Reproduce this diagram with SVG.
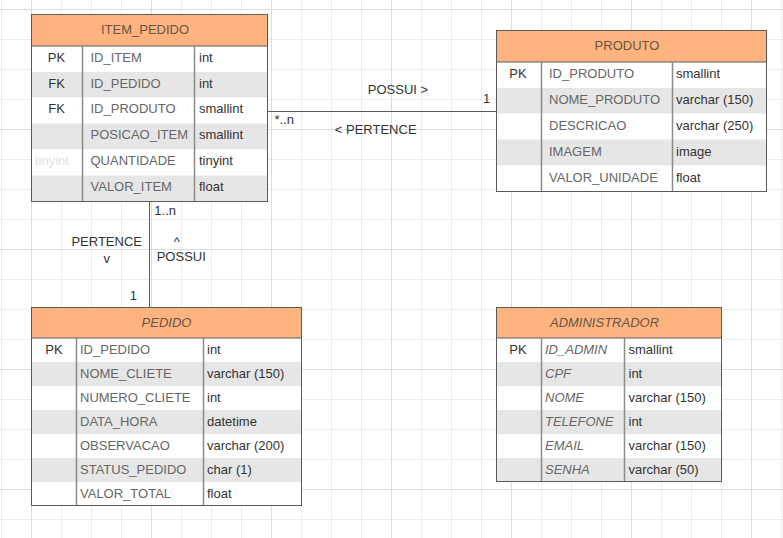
<svg xmlns="http://www.w3.org/2000/svg" width="783" height="538" viewBox="0 0 783 538">
<style>
text{font-family:"Liberation Sans",Arial,sans-serif;font-size:13px}
.hdr{fill:#FFB47F;stroke:#5a5a5a;stroke-width:1}
.box{fill:#ffffff;stroke:#5a5a5a;stroke-width:1}
.alt{fill:#e6e6e6}
.col{stroke:#8c8c8c;stroke-width:1.5}
.ttl{fill:#665544;text-anchor:middle}
.key{fill:#333333;text-anchor:middle}
.fld{fill:#666666}
.typ{fill:#333333}
.it{font-style:italic}
.ghost{fill:#e2e2e2}
.lbl{fill:#333333}
.mid{text-anchor:middle}
.edge{stroke:#5a5a5a;stroke-width:1;fill:none}
</style>
<rect width="783" height="538" fill="#ffffff"/>
<g id="grid" fill="none">
<path stroke="#ececec" stroke-width="1" d="M1.5 0V538M61.5 0V538M91.5 0V538M121.5 0V538M181.5 0V538M211.5 0V538M241.5 0V538M301.5 0V538M331.5 0V538M361.5 0V538M421.5 0V538M451.5 0V538M481.5 0V538M541.5 0V538M571.5 0V538M601.5 0V538M661.5 0V538M691.5 0V538M721.5 0V538M781.5 0V538M0 39.5H783M0 69.5H783M0 99.5H783M0 159.5H783M0 189.5H783M0 219.5H783M0 279.5H783M0 309.5H783M0 339.5H783M0 399.5H783M0 429.5H783M0 459.5H783M0 519.5H783"/>
<path stroke="#dcdcdc" stroke-width="1" d="M31.5 0V538M151.5 0V538M271.5 0V538M391.5 0V538M511.5 0V538M631.5 0V538M751.5 0V538M0 9.5H783M0 129.5H783M0 249.5H783M0 369.5H783M0 489.5H783"/>
</g>
<g id="connectors">
<path class="edge" d="M267.5 111.5H496.5"/>
<path class="edge" d="M149.5 201.5V307.5"/>
<text class="lbl mid" x="398" y="94">POSSUI &gt;</text>
<text class="lbl mid" x="486.5" y="103.3">1</text>
<text class="lbl" x="274.5" y="124">*..n</text>
<text class="lbl mid" x="375.7" y="134">&lt; PERTENCE</text>
<text class="lbl" x="154.3" y="215">1..n</text>
<text class="lbl mid" x="106.7" y="245.7">PERTENCE</text>
<text class="lbl mid" x="106.7" y="263.3">v</text>
<text class="lbl mid" x="176.7" y="245.5">^</text>
<text class="lbl" x="156.7" y="260.5">POSSUI</text>
<text class="lbl mid" x="133.3" y="300">1</text>
</g>
<g id="item_pedido">
<rect class="box" x="31.5" y="14.5" width="236" height="187"/>
<rect class="alt" x="32" y="72" width="235" height="25.5"/>
<rect class="alt" x="32" y="123.5" width="235" height="26"/>
<rect class="alt" x="32" y="175.5" width="235" height="25.5"/>
<rect class="hdr" x="31.5" y="14.5" width="236" height="31.5"/>
<path class="col" d="M82.5 46V201M194.5 46V201"/>
<rect x="31.5" y="14.5" width="236" height="187" fill="none" stroke="#5a5a5a"/>
<text class="ttl" x="145" y="34">ITEM_PEDIDO</text>
<text class="key" x="56.5" y="61.7">PK</text>
<text class="fld" x="90.5" y="61.7">ID_ITEM</text>
<text class="typ" x="199" y="61.7">int</text>
<text class="key" x="56.5" y="87.7">FK</text>
<text class="fld" x="90.5" y="87.7">ID_PEDIDO</text>
<text class="typ" x="199" y="87.7">int</text>
<text class="key" x="56.5" y="113.2">FK</text>
<text class="fld" x="90.5" y="113.2">ID_PRODUTO</text>
<text class="typ" x="199" y="113.2">smallint</text>
<text class="fld" x="90.5" y="139.2">POSICAO_ITEM</text>
<text class="typ" x="199" y="139.2">smallint</text>
<text class="ghost" x="35" y="165.2">tinyint</text>
<text class="fld" x="90.5" y="165.2">QUANTIDADE</text>
<text class="typ" x="199" y="165.2">tinyint</text>
<text class="fld" x="90.5" y="191.2">VALOR_ITEM</text>
<text class="typ" x="199" y="191.2">float</text>
</g>
<g id="produto">
<rect class="box" x="496.5" y="30.5" width="270" height="161"/>
<rect class="alt" x="497" y="88" width="269" height="25.5"/>
<rect class="alt" x="497" y="139.5" width="269" height="26"/>
<rect class="hdr" x="496.5" y="30.5" width="270" height="31.5"/>
<path class="col" d="M541.5 62V191M672.5 62V191"/>
<rect x="496.5" y="30.5" width="270" height="161" fill="none" stroke="#5a5a5a"/>
<text class="ttl" x="627" y="49.5">PRODUTO</text>
<text class="key" x="518" y="78">PK</text>
<text class="fld" x="549" y="78">ID_PRODUTO</text>
<text class="typ" x="676" y="78">smallint</text>
<text class="fld" x="549" y="104">NOME_PRODUTO</text>
<text class="typ" x="676" y="104">varchar (150)</text>
<text class="fld" x="549" y="129.5">DESCRICAO</text>
<text class="typ" x="676" y="129.5">varchar (250)</text>
<text class="fld" x="549" y="155.5">IMAGEM</text>
<text class="typ" x="676" y="155.5">image</text>
<text class="fld" x="549" y="181.5">VALOR_UNIDADE</text>
<text class="typ" x="676" y="181.5">float</text>
</g>
<g id="pedido">
<rect class="box" x="31.5" y="307.5" width="270" height="198"/>
<rect class="alt" x="32" y="362" width="269" height="24"/>
<rect class="alt" x="32" y="410" width="269" height="24"/>
<rect class="alt" x="32" y="458" width="269" height="24"/>
<rect class="hdr" x="31.5" y="307.5" width="270" height="30.5"/>
<path class="col" d="M76.5 338V505M203.5 338V505"/>
<rect x="31.5" y="307.5" width="270" height="198" fill="none" stroke="#5a5a5a"/>
<text class="ttl it" x="166.5" y="326.5">PEDIDO</text>
<text class="key" x="54" y="353.5">PK</text>
<text class="fld" x="80" y="353.5">ID_PEDIDO</text>
<text class="typ" x="207" y="353.5">int</text>
<text class="fld" x="80" y="377.5">NOME_CLIETE</text>
<text class="typ" x="207" y="377.5">varchar (150)</text>
<text class="fld" x="80" y="401.5">NUMERO_CLIETE</text>
<text class="typ" x="207" y="401.5">int</text>
<text class="fld" x="80" y="425.5">DATA_HORA</text>
<text class="typ" x="207" y="425.5">datetime</text>
<text class="fld" x="80" y="449.5">OBSERVACAO</text>
<text class="typ" x="207" y="449.5">varchar (200)</text>
<text class="fld" x="80" y="473.5">STATUS_PEDIDO</text>
<text class="typ" x="207" y="473.5">char (1)</text>
<text class="fld" x="80" y="497.5">VALOR_TOTAL</text>
<text class="typ" x="207" y="497.5">float</text>
</g>
<g id="administrador">
<rect class="box" x="496.5" y="307.5" width="225" height="174"/>
<rect class="alt" x="497" y="362" width="224" height="24"/>
<rect class="alt" x="497" y="410" width="224" height="24"/>
<rect class="alt" x="497" y="458" width="224" height="23"/>
<rect class="hdr" x="496.5" y="307.5" width="225" height="30.5"/>
<path class="col" d="M541.5 338V481M624.5 338V481"/>
<rect x="496.5" y="307.5" width="225" height="174" fill="none" stroke="#5a5a5a"/>
<text class="ttl it" x="604.5" y="326.5">ADMINISTRADOR</text>
<text class="key" x="518" y="353.5">PK</text>
<text class="fld it" x="545" y="353.5">ID_ADMIN</text>
<text class="typ" x="628.5" y="353.5">smallint</text>
<text class="fld it" x="545" y="377.5">CPF</text>
<text class="typ" x="628.5" y="377.5">int</text>
<text class="fld it" x="545" y="401.5">NOME</text>
<text class="typ" x="628.5" y="401.5">varchar (150)</text>
<text class="fld it" x="545" y="425.5">TELEFONE</text>
<text class="typ" x="628.5" y="425.5">int</text>
<text class="fld it" x="545" y="449.5">EMAIL</text>
<text class="typ" x="628.5" y="449.5">varchar (150)</text>
<text class="fld it" x="545" y="473.5">SENHA</text>
<text class="typ" x="628.5" y="473.5">varchar (50)</text>
</g>
</svg>
